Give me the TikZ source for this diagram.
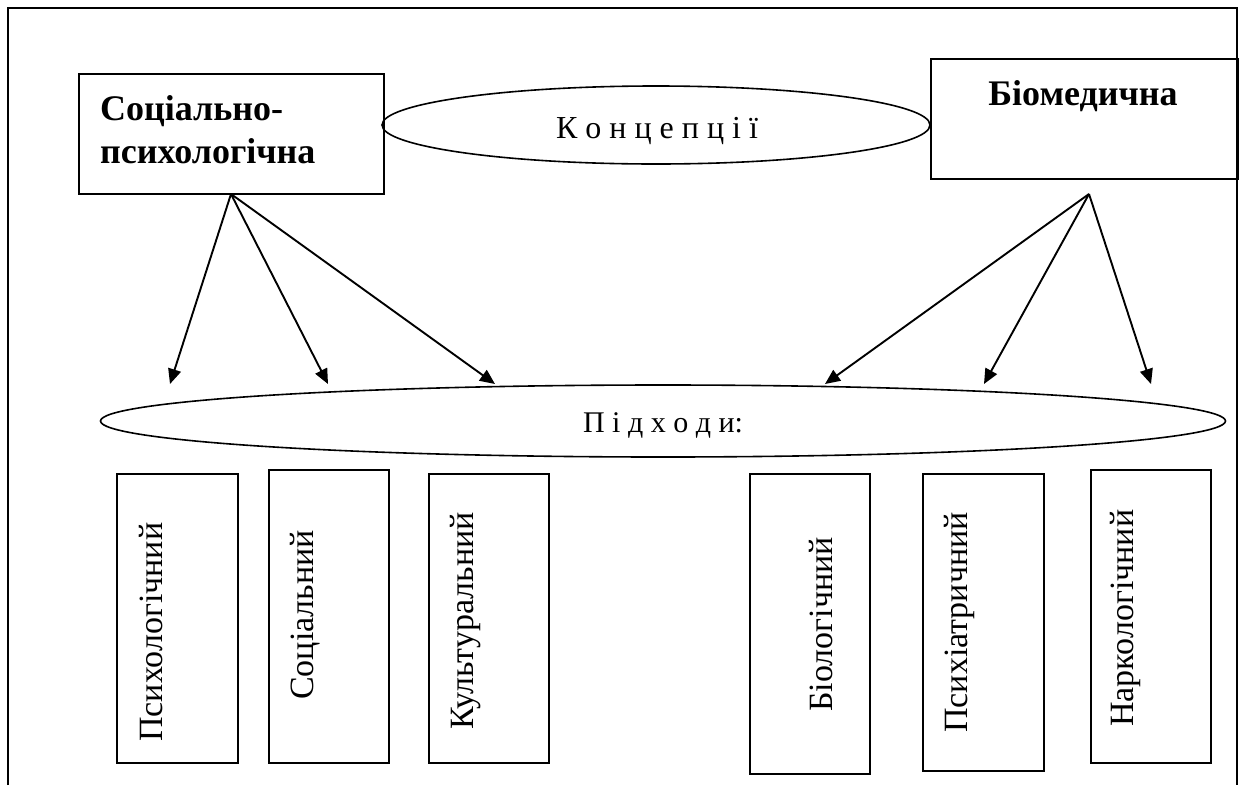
\documentclass[tikz,border=0pt]{standalone}
\usepackage{fontspec}
\setmainfont{Liberation Serif}
\usetikzlibrary{arrows.meta,shapes.geometric}
\begin{document}
\begin{tikzpicture}[x=1pt,y=-1pt,
  box/.style={draw, line width=1.7pt, inner sep=0pt, anchor=north west},
  oval/.style={draw, ellipse, line width=1.6pt, inner sep=0pt},
  arr/.style={line width=1.9pt, -{Triangle[length=15pt,width=13pt]}},
  vtext/.style={rotate=90, anchor=base west, inner sep=0pt, font=\fontsize{34}{40}\selectfont},
  btext/.style={inner sep=0pt, font=\fontsize{36}{43}\selectfont\bfseries},
  otext/.style={anchor=base, inner sep=0pt},
]
\useasboundingbox (0,0) rectangle (1243,785);
\draw[line width=1.7pt] (8,785) -- (8,8) -- (1237,8) -- (1237,785);

% top boxes
\node[box, minimum width=305pt, minimum height=120pt] (lbox) at (78,73) {};
\node[box, minimum width=307pt, minimum height=120pt] (rbox) at (930,58) {};
\node[btext, anchor=base west] (lt1) at (100,120) {Соціально-};
\node[btext, anchor=base west] (lt2) at (100,163) {психологічна};
\node[btext, anchor=base] (rt) at (1083,105) {Біомедична};

% ellipses
\node[oval, minimum width=548pt, minimum height=78pt] (conc) at (656,125) {};
\node[otext, font=\fontsize{32}{38}\selectfont] (ct) at (657,138) {К о н ц е п ц і ї};
\node[oval, minimum width=1125pt, minimum height=72pt] (appr) at (663,421) {};
\node[otext, font=\fontsize{30}{36}\selectfont] (pt) at (663,432) {П і д х о д и:};

% arrows
\coordinate (ls) at (231,194);
\coordinate (rs) at (1089,194);
\coordinate (t1) at (170,384);
\coordinate (t2) at (328,384);
\coordinate (t3) at (495,384);
\coordinate (t4) at (825,384);
\coordinate (t5) at (984,384);
\coordinate (t6) at (1151,384);
\draw[arr] (ls) -- (t1);
\draw[arr] (ls) -- (t2);
\draw[arr] (ls) -- (t3);
\draw[arr] (rs) -- (t4);
\draw[arr] (rs) -- (t5);
\draw[arr] (rs) -- (t6);

% vertical boxes
\node[box, minimum width=121pt, minimum height=289pt] (b1) at (116,473) {};
\node[box, minimum width=120pt, minimum height=293pt] (b2) at (268,469) {};
\node[box, minimum width=120pt, minimum height=289pt] (b3) at (428,473) {};
\node[box, minimum width=120pt, minimum height=300pt] (b4) at (749,473) {};
\node[box, minimum width=121pt, minimum height=297pt] (b5) at (922,473) {};
\node[box, minimum width=120pt, minimum height=293pt] (b6) at (1090,469) {};
\node[vtext] (v1) at (162,742) {Психологічний};
\node[vtext] (v2) at (313,700) {Соціальний};
\node[vtext] (v3) at (473,730) {Культуральний};
\node[vtext] (v4) at (832,712) {Біологічний};
\node[vtext] (v5) at (967,733) {Психіатричний};
\node[vtext] (v6) at (1133,727) {Наркологічний};
\end{tikzpicture}
\end{document}
